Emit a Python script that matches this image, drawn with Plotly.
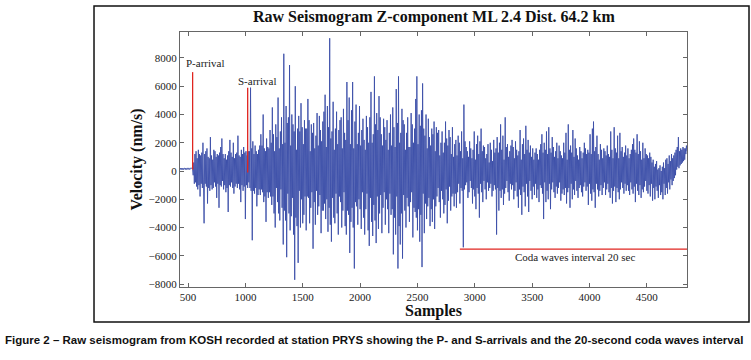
import numpy as np
import plotly.graph_objects as go

# ---- data: velocity in hundreds of nm/s, one value every 5 samples ----
sample_start = 430
sample_step = 5
velocity_hundreds = [
    1, 2, 1, 2, 1, 2, 1, 2, 2, 1, 2, 1, 2, 2, 1, 2, 2, 1, 2, 2,
    2, 2, 1, -3, 6, -9, 12, -8, 14, -11, 9, -13, 15, -10, 12, -18, 11, -9, 13, -12,
    20, -10, -37, 12, -9, 14, -11, 16, -23, 10, -12, 9, -14, 24, -10, 11, -13, 8, -12, 15,
    -8, 14, -11, 10, -19, 12, -9, 11, -26, 13, -10, 17, -11, 23, -7, 12, -13, 9, -10, 12,
    -15, 8, -12, 11, -29, 14, -10, 22, -11, 13, -8, 10, -12, 20, -16, 9, -11, 12, -9, 13,
    -12, 25, -9, 11, -13, 10, -22, 15, -10, 12, -14, 17, -11, 13, -34, 14, -10, 11, -12, 14,
    -8, 14, -12, 59, -14, 16, -49, 21, -14, 12, -16, 18, -12, 14, -25, 12, -17, 15, -13, 18,
    -17, 26, -13, 18, -15, 40, -22, 16, -18, 14, -36, 23, -15, 17, -19, 16, -15, 29, -18, 20,
    -24, 45, -18, 26, -30, 14, -40, 33, -12, 24, -22, 52, -30, 16, -35, 28, -13, 38, -26, 19,
    -52, 83, -28, 20, -35, 46, -61, 34, -16, 38, -30, 75, -42, 18, -32, 40, -19, 33, -45, 28,
    -77, 60, -33, 15, -39, 30, -65, 39, -14, 28, -40, 48, -20, 31, -37, 19, -31, 36, -18, 30,
    -42, 30, -18, 51, -19, 36, -37, 14, -26, 33, -15, 27, -55, 34, -22, 16, -38, 25, -14, 41,
    -31, 18, -25, 39, -17, 29, -44, 21, -28, 35, -28, 42, -23, 54, -34, 17, -20, 46, -43, 31,
    -26, 94, -38, 23, -50, 28, -19, 49, -33, 15, -37, 30, -16, 42, -30, 19, -45, 29, -18, 36,
    -22, 38, -40, 16, -28, 44, -15, 27, -39, 22, -45, 63, -28, 36, -31, 52, -58, 19, -36, 43,
    -26, 63, -40, 16, -69, 35, -22, 47, -25, 19, -38, 27, -20, 46, -27, 18, -41, 29, -15, 37,
    -33, 22, -45, 15, -27, 39, -16, 31, -42, 20, -53, 38, -19, 56, -36, 20, -46, 26, -24, 67,
    -35, 33, -51, 41, -18, 29, -41, 53, -30, 38, -17, 26, -44, 18, -26, 37, -15, 31, -38, 22,
    -20, 36, -27, 15, -44, 27, -16, 40, -31, 18, -27, 45, -59, 31, -33, 17, -45, 58, -18, 34,
    -69, 67, -39, 20, -52, 27, -30, 44, -62, 36, -17, 33, -28, 15, -40, 27, -19, 38, -25, 17,
    -36, 17, -22, 41, -15, 33, -47, 20, -26, 30, -29, 51, -33, 67, -42, 19, -27, 40, -50, 32,
    -31, 43, -68, 62, -16, 30, -44, 25, -23, 40, -34, 16, -25, 37, -19, 24, -39, 18, -27, 30,
    -36, 26, -20, 35, -41, 14, -25, 31, -18, 27, -12, 29, -22, 11, -33, 20, -14, 28, -20, 13,
    -30, 20, -24, 35, -13, 23, -37, 18, -21, 29, -11, 24, -28, 12, -18, 31, -16, 10, -25, 19,
    -16, 22, -26, 11, -15, 25, -9, 20, -23, 14, -12, 28, -14, 9, -54, 47, -13, 21, -10, 17,
    -8, 14, -19, 10, -15, 21, -7, 16, -12, 9, -23, 15, -13, 28, -18, 8, -27, 19, -12, 25,
    -16, 12, -33, 21, -9, 30, -15, 14, -22, 18, -7, 17, -13, 9, -20, 12, -8, 19, -14, 6,
    -12, 20, -9, 15, -18, 7, -14, 22, -10, 13, -13, 16, -45, 24, -12, 13, -28, 20, -14, 33,
    -19, 15, -13, 25, -24, 8, -16, 38, -12, 17, -7, 19, -15, 10, -21, 14, -9, 18, -13, 22,
    -10, 17, -20, 9, -14, 21, -8, 15, -18, 11, -26, 14, -13, 29, -17, 8, -31, 19, -11, 23,
    -15, 12, -25, 32, -9, 15, -18, 22, -29, 13, -7, 18, -14, 10, -20, 16, -11, 8, -17, 13,
    -9, 16, -19, 12, -13, 8, -22, 15, -10, 19, -12, 26, -16, 13, -34, 20, -8, 15, -22, 28,
    -14, 12, -20, 31, -9, 16, -27, 13, -13, 24, -8, 17, -15, 10, -19, 14, -11, 20, -16, 9,
    -12, 18, -8, 14, -21, 11, -16, 9, -13, 20, -17, 13, -12, 27, -23, 8, -15, 33, -12, 15,
    -26, 18, -9, 13, -20, 29, -13, 10, -17, 23, -7, 16, -14, 11, -19, 8, -12, 17, -10, 14,
    -15, 9, -18, 13, -11, 20, -8, 16, -14, 12, -11, 15, -24, 13, -9, 26, -16, 12, -21, 30,
    -13, 35, -15, 14, -26, 17, -9, 25, -13, 12, -18, 8, -14, 19, -10, 15, -17, 9, -12, 16,
    -8, 14, -17, 11, -13, 18, -9, 12, -15, 10, -19, 28, -12, 15, -23, 9, -14, 31, -11, 16,
    -22, 13, -12, 25, -15, 9, -20, 27, -13, 14, -8, 17, -12, 10, -16, 13, -9, 18, -14, 11,
    -10, 16, -14, 9, -17, 12, -8, 15, -13, 19, -16, 23, -11, 15, -22, 13, -9, 26, -14, 12,
    -17, 21, -10, 14, -19, 8, -13, 20, -15, 9, -11, 16, -7, 12, -14, 11, -16, 9, -10, 13,
    -18, 10, -9, 6, -21, 8, -12, 3, -20, 5, -11, 7, -14, 1, -19, 2, -10, 4, -17, 0,
    -15, 3, -20, 6, -9, 2, -17, 8, -12, 9, -16, 5, -8, 11, -13, 7, -6, 12, -10, 9,
    -7, 11, -5, 13, -3, 15, 1, 17, 3, 24, 2, 14, 4, 16, 5, 15, 6, 17, 7, 16,
    8, 16, 12, 18, 14,
]
velocity = [v * 100 for v in velocity_hundreds]          # nm/s
samples = sample_start + sample_step * np.arange(len(velocity))

arrival_names = ["P-arrival", "S-arrival"]
arrival_samples = [540, 1020]
arrival_bottoms = [100, -100]
arrival_tops = [7000, 5900]
arrival_label_x = [650, 1100]
arrival_label_y = [7650, 6400]

coda_start = 2870
coda_end = 4850
coda_level = -5530
coda_label = "Coda waves interval 20 sec"
coda_label_x = 3870
coda_label_y = -6120

x_ticks = [500, 1000, 1500, 2000, 2500, 3000, 3500, 4000, 4500]
y_ticks = [-8000, -6000, -4000, -2000, 0, 2000, 4000, 6000, 8000]

SERIF = "Liberation Serif, Times New Roman, serif"
RED = "#e0251f"
BLUE = "#3b4ea8"

fig = go.Figure()
fig.add_trace(go.Scatter(x=samples, y=velocity, mode="lines",
                         line=dict(color=BLUE, width=0.9, simplify=False),
                         showlegend=False, hoverinfo="skip"))
for xs, yb, yt in zip(arrival_samples, arrival_bottoms, arrival_tops):
    fig.add_trace(go.Scatter(x=[xs, xs], y=[yb, yt], mode="lines",
                             line=dict(color=RED, width=1.3), showlegend=False))
fig.add_trace(go.Scatter(x=[coda_start, coda_end], y=[coda_level, coda_level],
                         mode="lines", line=dict(color=RED, width=1.3),
                         showlegend=False))

for name, lx, ly in zip(arrival_names, arrival_label_x, arrival_label_y):
    fig.add_annotation(x=lx, y=ly, text=name, showarrow=False,
                       font=dict(family=SERIF, size=11, color="#222"))
fig.add_annotation(x=coda_label_x, y=coda_label_y, text=coda_label, showarrow=False,
                   font=dict(family=SERIF, size=11, color="#222"))

# titles
fig.add_annotation(xref="paper", yref="paper", x=0.5, y=1.059,
                   text="<b>Raw Seismogram Z-component ML 2.4 Dist. 64.2 km</b>",
                   showarrow=False, font=dict(family=SERIF, size=16, color="#111"),
                   yanchor="middle")
fig.add_annotation(xref="paper", yref="paper", x=0.5, y=-0.094,
                   text="<b>Samples</b>", showarrow=False, yanchor="middle",
                   font=dict(family=SERIF, size=16, color="#111"))
fig.add_annotation(xref="paper", yref="paper", x=-0.085, y=0.5, textangle=-90,
                   text="<b>Velocity (nm/s)</b>", showarrow=False,
                   xanchor="center", yanchor="middle",
                   font=dict(family=SERIF, size=16, color="#111"))
fig.add_annotation(xref="paper", yref="paper", x=-0.349, y=-0.208,
                   xanchor="left", yanchor="middle", showarrow=False,
                   text="<b>Figure 2 – Raw seismogram from KOSH recorded at station PRYS showing the P- and S-arrivals and the 20-second coda waves interval</b>",
                   font=dict(family="Liberation Sans, Arial, sans-serif",
                             size=11.5, color="#111"))

# outer frame
fig.add_shape(type="rect", xref="paper", yref="paper",
              x0=-0.1696, x1=1.1223, y0=-0.1373, y1=1.102,
              line=dict(color="#111", width=1.5), fillcolor="rgba(0,0,0,0)")

axis_common = dict(showline=True, mirror="allticks", linecolor="#666", linewidth=1,
                   ticks="inside", ticklen=4, tickcolor="#666", showgrid=False,
                   zeroline=False, tickfont=dict(family=SERIF, size=11, color="#222"))
fig.update_xaxes(range=[430, 4850], tickvals=x_ticks, **axis_common)
fig.update_yaxes(range=[-8210, 9840], tickvals=y_ticks, **axis_common)

fig.update_layout(width=751, height=360, margin=dict(l=180, r=64, t=32, b=73),
                  paper_bgcolor="white", plot_bgcolor="white")
fig.write_html("out.html", config={"displayModeBar": False},
               post_script="document.body.style.margin='0px';document.body.style.overflow='hidden';")
